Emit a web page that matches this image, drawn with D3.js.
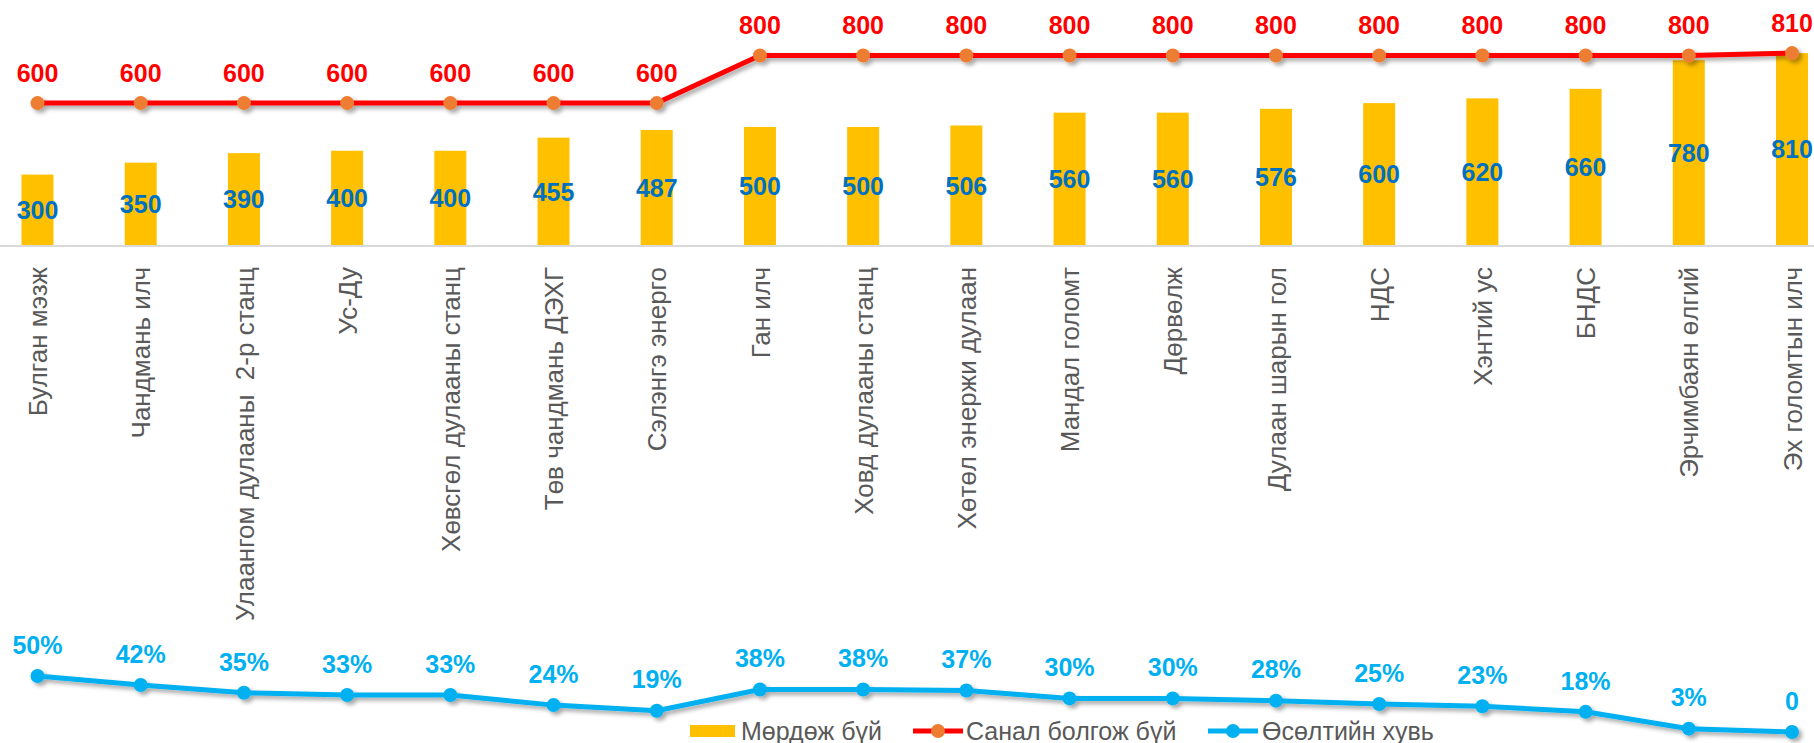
<!DOCTYPE html>
<html>
<head>
<meta charset="utf-8">
<script src="https://cdn.jsdelivr.net/npm/d3@7"></script>
<style>
	body { margin: 0; background: #fff; }
	svg { display: block; font-family: "Liberation Sans", Arial, sans-serif; }
	.cat-label { fill: #595959; font-size: 26px; white-space: pre; }
	.legend-label { fill: #595959; font-size: 25px; }
</style>
</head>
<body>
<div id="chart"></div>
<script>
const categories = [
	"Булган мэзж", "Чандмань илч", "Улаангом дулааны  2-р станц", "Ус-Ду",
	"Хөвсгөл дулааны станц", "Төв чандмань ДЭХГ", "Сэлэнгэ энерго", "Ган илч",
	"Ховд дулааны станц", "Хөтөл энержи дулаан", "Мандал голомт", "Дөрвөлж",
	"Дулаан шарын гол", "НДС", "Хэнтий ус", "БНДС", "Эрчимбаян өлгий", "Эх голомтын илч",
];
const current = [300, 350, 390, 400, 400, 455, 487, 500, 500, 506, 560, 560, 576, 600, 620, 660, 780, 810];
const proposed = [600, 600, 600, 600, 600, 600, 600, 800, 800, 800, 800, 800, 800, 800, 800, 800, 800, 810];
const growth = [50, 42, 35, 33, 33, 24, 19, 38, 38, 37, 30, 30, 28, 25, 23, 18, 3, 0];
const growthLabels = ["50%", "42%", "35%", "33%", "33%", "24%", "19%", "38%", "38%", "37%", "30%", "30%", "28%", "25%", "23%", "18%", "3%", "0"];
const seriesNames = ["Мөрдөж бүй", "Санал болгож бүй", "Өсөлтийн хувь"];

const width = 1814;
const height = 743;
const baseY = 246;
const barWidth = 32;
const labelSize = 25;

const colours = {bar: "#FFC000", barText: "#0070C0", red: "#FF0000", dot: "#ED7D31", blue: "#00B0F0"};

const svg = d3.select("#chart")
	.append("svg")
	.attr("width", width)
	.attr("height", height);

// soft drop shadow used by the lines
const defs = svg.append("defs");
defs.append("filter")
	.attr("id", "shadow")
	.attr("x", "-20%").attr("y", "-50%")
	.attr("width", "140%").attr("height", "200%")
	.append("feDropShadow")
	.attr("dx", 3).attr("dy", 3)
	.attr("stdDeviation", 2)
	.attr("flood-color", "#000")
	.attr("flood-opacity", 0.35);

const x = d3.scalePoint().domain(categories).range([37.5, 1792]);
const y = d3.scaleLinear().domain([0, 1033]).range([baseY, 0]);
const yPct = d3.scaleLinear().domain([0, 50]).range([732, 676]);

const rows = categories.map((c, i) => ({cat: c, cur: current[i], prop: proposed[i], g: growth[i], gl: growthLabels[i]}));

// Bars
svg.selectAll(".bar")
	.data(rows)
	.enter()
	.append("rect")
	.attr("class", "bar")
	.attr("x", (d) => x(d.cat) - barWidth / 2)
	.attr("y", (d) => y(d.cur))
	.attr("width", barWidth)
	.attr("height", (d) => baseY - y(d.cur))
	.attr("fill", colours.bar);

// Axis line + category labels
const xAxis = svg.append("g")
	.attr("transform", `translate(0,${baseY})`)
	.call(d3.axisBottom(x).tickSize(0).tickSizeOuter(0));
xAxis.select(".domain").attr("stroke", "#D9D9D9").attr("stroke-width", 2)
	.attr("d", `M0,0H${width}`);
xAxis.selectAll(".tick text")
	.attr("class", "cat-label")
	.attr("font-size", null)
	.attr("font-family", null)
	.attr("fill", null)
	.attr("transform", "rotate(-90)")
	.attr("x", -21)
	.attr("y", 0)
	.attr("dy", "0.35em")
	.style("text-anchor", "end");

// Bar value labels
svg.selectAll(".bar-label")
	.data(rows)
	.enter()
	.append("text")
	.attr("x", (d) => x(d.cat))
	.attr("y", (d) => (y(d.cur) + baseY) / 2)
	.attr("dy", "0.35em")
	.attr("text-anchor", "middle")
	.attr("fill", colours.barText)
	.attr("font-weight", 700)
	.attr("font-size", labelSize)
	.text((d) => d.cur);

// Proposed line
const redG = svg.append("g").attr("filter", "url(#shadow)");
redG.append("path")
	.datum(rows)
	.attr("fill", "none")
	.attr("stroke", colours.red)
	.attr("stroke-width", 5)
	.attr("d", d3.line().x((d) => x(d.cat)).y((d) => y(d.prop)));
redG.selectAll("circle")
	.data(rows)
	.enter()
	.append("circle")
	.attr("cx", (d) => x(d.cat))
	.attr("cy", (d) => y(d.prop))
	.attr("r", 7)
	.attr("fill", colours.dot);

svg.selectAll(".red-label")
	.data(rows)
	.enter()
	.append("text")
	.attr("x", (d) => x(d.cat))
	.attr("y", (d) => y(d.prop) - 30)
	.attr("dy", "0.35em")
	.attr("text-anchor", "middle")
	.attr("fill", colours.red)
	.attr("font-weight", 700)
	.attr("font-size", labelSize)
	.text((d) => d.prop);

// Growth line
const blueG = svg.append("g").attr("filter", "url(#shadow)");
blueG.append("path")
	.datum(rows)
	.attr("fill", "none")
	.attr("stroke", colours.blue)
	.attr("stroke-width", 5)
	.attr("d", d3.line().x((d) => x(d.cat)).y((d) => yPct(d.g)));
blueG.selectAll("circle")
	.data(rows)
	.enter()
	.append("circle")
	.attr("cx", (d) => x(d.cat))
	.attr("cy", (d) => yPct(d.g))
	.attr("r", 7)
	.attr("fill", colours.blue);

svg.selectAll(".blue-label")
	.data(rows)
	.enter()
	.append("text")
	.attr("x", (d) => x(d.cat))
	.attr("y", (d) => yPct(d.g) - 31)
	.attr("dy", "0.35em")
	.attr("text-anchor", "middle")
	.attr("fill", colours.blue)
	.attr("font-weight", 700)
	.attr("font-size", labelSize)
	.text((d) => d.gl);

// Legend
const legend = svg.append("g").attr("transform", "translate(0,731)");
legend.append("rect").attr("x", 690).attr("y", -6).attr("width", 45).attr("height", 12).attr("fill", colours.bar);
legend.append("text").attr("class", "legend-label").attr("x", 741).attr("dy", "0.35em").text(seriesNames[0]);

legend.append("line").attr("x1", 913).attr("x2", 963).attr("stroke", colours.red).attr("stroke-width", 5);
legend.append("circle").attr("cx", 938).attr("r", 7).attr("fill", colours.dot);
legend.append("text").attr("class", "legend-label").attr("x", 966).attr("dy", "0.35em").text(seriesNames[1]);

legend.append("line").attr("x1", 1208).attr("x2", 1258).attr("stroke", colours.blue).attr("stroke-width", 5);
legend.append("circle").attr("cx", 1233).attr("r", 7).attr("fill", colours.blue);
legend.append("text").attr("class", "legend-label").attr("x", 1262).attr("dy", "0.35em").text(seriesNames[2]);
</script>
</body>
</html>
